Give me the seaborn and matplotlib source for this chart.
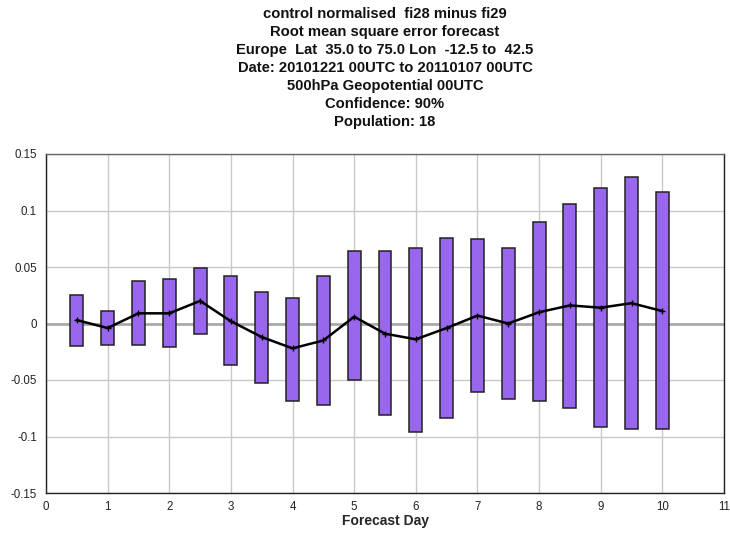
import matplotlib
matplotlib.use("Agg")
import matplotlib.pyplot as plt
import seaborn as sns
import pandas as pd

days = [0.5, 1.0, 1.5, 2.0, 2.5, 3.0, 3.5, 4.0, 4.5, 5.0,
        5.5, 6.0, 6.5, 7.0, 7.5, 8.0, 8.5, 9.0, 9.5, 10.0]
upper = [0.025, 0.011, 0.038, 0.039, 0.049, 0.042, 0.028, 0.023, 0.042, 0.064,
         0.064, 0.067, 0.076, 0.075, 0.067, 0.090, 0.106, 0.120, 0.130, 0.116]
lower = [-0.020, -0.019, -0.019, -0.021, -0.009, -0.037, -0.053, -0.069, -0.072, -0.050,
         -0.081, -0.096, -0.084, -0.061, -0.067, -0.069, -0.075, -0.092, -0.093, -0.093]
mean = [0.003, -0.004, 0.009, 0.009, 0.020, 0.002, -0.012, -0.022, -0.015, 0.006,
        -0.009, -0.014, -0.004, 0.007, 0.000, 0.010, 0.016, 0.014, 0.018, 0.011]

xticks = list(range(0, 12))
yticks = [-0.15, -0.1, -0.05, 0, 0.05, 0.1, 0.15]
ytick_labels = ["-0.15", "-0.1", "-0.05", "0", "0.05", "0.1", "0.15"]

title_lines = [
    "control normalised  fi28 minus fi29",
    "Root mean square error forecast",
    "Europe  Lat  35.0 to 75.0 Lon  -12.5 to  42.5",
    "Date: 20101221 00UTC to 20110107 00UTC",
    "500hPa Geopotential 00UTC",
    "Confidence: 90%",
    "Population: 18",
]

sns.set_theme(style="white")
plt.rcParams['font.family'] = ['Liberation Sans', 'DejaVu Sans']

df = pd.DataFrame({"day": days, "upper": upper, "lower": lower, "mean": mean})

fig = plt.figure(figsize=(7.3, 5.34), dpi=100)
ax = fig.add_axes([46/730, 1 - 493/534, (724-46)/730, (493-154)/534])

ax.set_xlim(0, 11)
ax.set_ylim(-0.15, 0.15)
ax.set_xticks(xticks)
ax.set_yticks(yticks)
ax.set_yticklabels(ytick_labels)
ax.grid(True, color="#c8c8c8", linewidth=1.0, zorder=0)
ax.set_axisbelow(True)
ax.axhline(0, color="#aaaaaa", linewidth=2.0, zorder=1)

ax.bar(df["day"], df["upper"] - df["lower"], bottom=df["lower"], width=0.21,
       color="#9966ee", edgecolor="#222222", linewidth=1.1, zorder=2)

sns.lineplot(data=df, x="day", y="mean", ax=ax, color="black", linewidth=1.8,
             marker="+", markersize=5, markeredgewidth=1.0,
             markeredgecolor="black", zorder=3)

ax.set_xlabel("Forecast Day", fontsize=10, fontweight="bold", labelpad=1)
ax.set_ylabel("")
ax.tick_params(axis="both", labelsize=8.3, colors="#222222", length=5, width=0.9, pad=1.5)
ax.tick_params(axis="x", length=4, pad=1.5)
for side in ["left", "bottom", "right", "top"]:
    ax.spines[side].set_color("#222222")
    ax.spines[side].set_linewidth(1.0)
ax.spines["top"].set_color("#666666")

for i, line in enumerate(title_lines):
    fig.text(385/730, 1 - (14 + 18*i)/534, line, ha="center", va="center",
             fontsize=10.6, fontweight="bold", color="#111111")

fig.savefig("out.png", dpi=100)
